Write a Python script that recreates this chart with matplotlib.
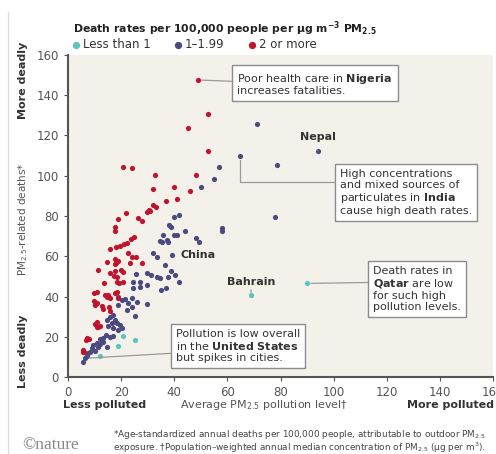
import numpy as np
import matplotlib
matplotlib.use("Agg")
import matplotlib.pyplot as plt

plt.rcParams["font.family"] = ["DejaVu Sans"]
plt.rcParams["mathtext.fontset"] = "dejavusans"

# ---------------------------------------------------------------------------
# Data: (average PM2.5 level, PM2.5-related deaths)
# ---------------------------------------------------------------------------
red_x = [48.8, 52.8, 45.1, 52.8, 20.8, 24.0, 32.9, 48.1, 31.9, 39.9, 45.9, 36.9,
         40.9, 32.1, 33.1, 30.5, 29.7, 30.9, 21.8, 18.9, 26.5, 27.7, 17.8, 17.8,
         24.8, 23.8, 22.1, 21.1, 19.6, 18.1, 15.8, 22.7, 24.0, 25.6, 23.3, 27.7,
         17.7, 18.7, 18.1, 14.8, 17.7, 11.2, 15.8, 17.7, 19.8, 20.8, 13.6, 18.3,
         19.2, 20.8, 17.3, 18.3, 10.8, 9.8, 13.9, 15.2, 17.7, 18.6, 18.9, 15.8,
         14.8, 9.9, 10.2, 11.0, 12.7, 13.3, 15.8, 15.6, 10.8, 10.2, 11.4, 12.0,
         10.8, 7.3, 8.0, 6.8, 5.8, 6.1, 5.5]
red_y = [147.6, 130.5, 123.6, 112.5, 104.5, 103.7, 100.4, 100.4, 93.6, 94.6, 92.6, 87.3,
         88.4, 85.3, 84.4, 82.8, 81.8, 82.3, 81.3, 78.5, 78.8, 77.4, 74.4, 72.4,
         69.4, 68.6, 66.4, 66.0, 65.3, 64.8, 63.5, 61.5, 59.5, 59.8, 56.8, 56.5,
         58.5, 57.8, 56.8, 57.3, 56.1, 53.2, 51.5, 52.8, 53.2, 52.3, 46.5, 47.4,
         46.5, 47.3, 50.2, 49.8, 42.4, 41.9, 40.7, 40.7, 41.6, 42.4, 39.1, 39.1,
         39.6, 37.8, 35.8, 36.9, 35.3, 33.6, 32.9, 34.6, 27.5, 26.3, 24.7, 25.3,
         24.7, 19.2, 18.7, 18.4, 13.4, 12.3, 12.6]

blue_x = [64.8, 71.0, 94.0, 78.8, 56.9, 55.0, 50.0, 77.9, 41.9, 39.9, 57.9, 57.9,
          38.0, 38.8, 44.0, 35.9, 39.9, 40.9, 48.3, 49.2, 37.2, 35.3, 34.7, 37.8,
          32.0, 33.6, 36.4, 38.7, 40.4, 41.9, 39.0, 34.6, 34.9, 36.9, 37.6, 25.7,
          29.8, 31.3, 33.6, 27.1, 24.6, 24.3, 27.1, 29.6, 29.8, 18.9, 20.2, 21.5,
          24.0, 22.7, 18.9, 22.1, 24.0, 25.2, 25.8, 14.6, 15.8, 17.1, 17.7, 18.3,
          19.6, 16.5, 15.2, 17.1, 18.9, 20.2, 14.3, 15.8, 17.1, 13.3, 12.0, 10.8,
          11.4, 9.5, 8.9, 10.2, 8.3, 7.6, 7.0, 6.4, 5.5, 12.0, 13.3, 14.6]
blue_y = [110.0, 125.7, 112.5, 105.5, 104.5, 98.5, 94.6, 79.5, 80.6, 79.5, 74.2, 72.5,
          75.5, 74.5, 72.5, 70.6, 70.6, 70.6, 69.2, 67.2, 68.1, 66.9, 67.4, 67.2,
          61.8, 59.5, 55.7, 52.8, 50.7, 47.4, 60.6, 49.0, 43.2, 44.1, 49.5, 51.2,
          51.5, 50.7, 49.8, 47.4, 47.4, 44.1, 44.9, 45.7, 36.4, 39.9, 38.3, 38.6,
          39.1, 36.9, 35.8, 33.3, 34.9, 30.3, 37.4, 28.3, 30.0, 30.8, 28.3, 26.6,
          25.8, 26.6, 25.3, 24.2, 23.4, 24.2, 20.9, 20.0, 20.4, 19.2, 18.7, 16.7,
          15.1, 15.9, 14.3, 13.1, 12.6, 11.7, 10.4, 9.3, 7.6, 16.4, 17.5, 15.1]

cyan_x = [20.8, 25.2, 18.9, 12.0, 89.9, 68.9]
cyan_y = [20.4, 18.4, 15.4, 10.4, 46.5, 40.6]

# highlighted countries (x, y)
nigeria = (red_x[0], red_y[0])
india = (blue_x[0], blue_y[0])
nepal = (blue_x[2], blue_y[2])
china = (blue_x[30], blue_y[30])
qatar = (cyan_x[4], cyan_y[4])
bahrain = (cyan_x[5], cyan_y[5])
usa = (blue_x[79], blue_y[79])

CYAN = "#5cc3bf"
NAVY = "#4a4a7e"
RED = "#c0142e"
BG = "#f3f1ea"
DARK = "#333333"
BOX = dict(boxstyle="square,pad=0.45", fc="white", ec="#8c8c8c", lw=1.0)
LINE = dict(arrowstyle="-", color="#9a9a9a", lw=0.9, shrinkA=0, shrinkB=3)

fig = plt.figure(figsize=(4.96, 4.54), dpi=100)
ax = fig.add_axes([68 / 496, 1 - 377 / 454, 425 / 496, 322 / 454])
ax.set_facecolor(BG)

s_c = ax.scatter(cyan_x, cyan_y, s=14, color=CYAN, lw=0, zorder=3, label="Less than 1")
s_b = ax.scatter(blue_x, blue_y, s=14, color=NAVY, lw=0, zorder=3, label="1\u20131.99")
s_r = ax.scatter(red_x, red_y, s=14, color=RED, lw=0, zorder=3, label="2 or more")

ax.set_xlim(0, 160)
ax.set_ylim(0, 160)
ax.set_xticks(np.arange(0, 161, 20))
ax.set_yticks(np.arange(0, 161, 20))
ax.tick_params(labelsize=8.5, colors="#555555", length=3, width=0.8)
for side in ["top", "right"]:
    ax.spines[side].set_visible(False)
for side in ["left", "bottom"]:
    ax.spines[side].set_color("#555555")
    ax.spines[side].set_linewidth(1.5)

# --- annotations ---
fs = 8
ax.annotate("Poor health care in $\\bf{Nigeria}$\nincreases fatalities.",
            xy=nigeria, xytext=(63.7, 145.6), fontsize=fs, color=DARK,
            va="center", ha="left", linespacing=1.1, bbox=BOX,
            arrowprops=dict(LINE, relpos=(0, 0.6)), zorder=5)

ax.annotate("High concentrations\nand mixed sources of\nparticulates in $\\bf{India}$\ncause high death rates.",
            xy=india, xytext=(102.4, 91.7), fontsize=fs, color=DARK,
            va="center", ha="left", linespacing=1.1, bbox=BOX,
            arrowprops=dict(LINE, relpos=(0, 0.72),
                            connectionstyle="angle,angleA=0,angleB=90,rad=0"), zorder=5)

ax.annotate("Death rates in\n$\\bf{Qatar}$ are low\nfor such high\npollution levels.",
            xy=qatar, xytext=(115, 43.6), fontsize=fs, color=DARK,
            va="center", ha="left", linespacing=1.1, bbox=BOX,
            arrowprops=dict(LINE, relpos=(0, 0.65)), zorder=5)

ax.annotate("Pollution is low overall\nin the $\\bf{United\\ States}$\nbut spikes in cities.",
            xy=usa, xytext=(40.7, 15.6), fontsize=fs, color=DARK,
            va="center", ha="left", linespacing=1.1, bbox=BOX,
            arrowprops=dict(LINE, relpos=(0, 0.28)), zorder=5)

ax.annotate("Nepal", xy=nepal, xytext=(nepal[0], 119.3), fontsize=fs, weight="bold",
            color=DARK, ha="center", va="center",
            arrowprops=dict(LINE, shrinkA=4, shrinkB=2))
ax.annotate("Bahrain", xy=bahrain, xytext=(bahrain[0], 47.2), fontsize=fs, weight="bold",
            color=DARK, ha="center", va="center",
            arrowprops=dict(LINE, shrinkA=4, shrinkB=2))
ax.text(42.5, 60.6, "China", fontsize=fs, weight="bold", color=DARK, va="center")

# --- legend ---
fig.text(73 / 496, 1 - 29 / 454,
         "Death rates per 100,000 people per \u03bcg m$^{\\mathbf{-3}}$ PM$_{\\mathbf{2.5}}$",
         fontsize=7.8, weight="bold", color="#222222", va="center")
fig.legend(handles=[s_c, s_b, s_r], loc="center left", bbox_to_anchor=(70 / 496, 1 - 45 / 454),
           ncol=3, frameon=False, fontsize=8.5, handletextpad=0.1, columnspacing=1.8,
           borderpad=0, borderaxespad=0, handlelength=1.0, markerscale=1.4,
           labelcolor="#333333")

# --- axis labels ---
fig.text(23 / 496, 1 - 80 / 454, "More deadly", rotation=90, fontsize=8, weight="bold",
         color=DARK, ha="center", va="center")
fig.text(23 / 496, 1 - 351 / 454, "Less deadly", rotation=90, fontsize=8, weight="bold",
         color=DARK, ha="center", va="center")
fig.text(23 / 496, 1 - 219 / 454, "PM$_{2.5}$-related deaths*", rotation=90, fontsize=7.5,
         color="#555555", ha="center", va="center")
fig.text(105 / 496, 1 - 405 / 454, "Less polluted", fontsize=8, weight="bold",
         color=DARK, ha="center", va="center")
fig.text(264 / 496, 1 - 405 / 454, "Average PM$_{2.5}$ pollution level\u2020", fontsize=8,
         color="#555555", ha="center", va="center")
fig.text(494 / 496, 1 - 405 / 454, "More polluted", fontsize=8, weight="bold",
         color=DARK, ha="right", va="center")

# --- footer ---
fig.text(22 / 496, 1 - 445 / 454, "\u00a9nature", fontsize=12.5, family="Liberation Serif",
         color="#888888", va="center")
fig.text(113 / 496, 1 - 441.5 / 454,
         "*Age-standardized annual deaths per 100,000 people, attributable to outdoor PM$_{2.5}$\n"
         "exposure. \u2020Population\u2013weighted annual median concentration of PM$_{2.5}$ (\u03bcg per m$^3$).",
         fontsize=6.4, color="#444444", va="center", linespacing=0.95)

fig.add_artist(plt.Line2D([8 / 496, 8 / 496], [0, 1 - 12 / 454], color="#dddddd", lw=1.0))

fig.savefig("out.png", dpi=100, facecolor="white")
